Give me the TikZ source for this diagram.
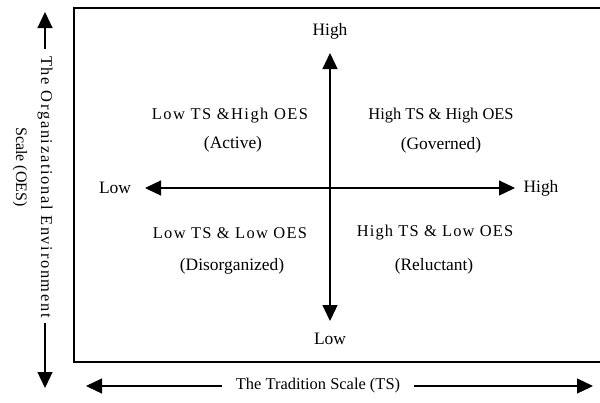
\documentclass[tikz,border=0pt]{standalone}
\usepackage{fontspec}
\setmainfont{Liberation Serif}
\usetikzlibrary{arrows.meta}
\begin{document}
\begin{tikzpicture}[x=1bp,y=-1bp,
  lbl/.style={font=\fontsize{16.5}{19}\selectfont, inner sep=0pt},
  big/.style={font=\fontsize{17.5}{20}\selectfont, inner sep=0pt},
  wide/.style={font=\fontsize{16.5}{19}\selectfont\addfontfeature{LetterSpace=#1}},
  axis/.style={line width=1.2bp, -{Triangle[length=16bp,width=15bp]}},
  frame/.style={line width=1.3bp}]
\useasboundingbox (0,0) rectangle (600,402);
% frame
\draw[frame] (600,8) -- (74,8) -- (74,362) -- (600,362);
% central axes
\node[big] (vhigh) at (330,31) {High};
\node[big] (vlow) at (330,339) {Low};
\node[big] (hlow) at (115,188) {Low};
\node[big] (hhigh) at (541,188) {High};
\coordinate (c) at (330,188);
\coordinate (ctop) at (330,53);
\coordinate (cbot) at (330,321);
\coordinate (cleft) at (145,188);
\coordinate (cright) at (515,188);
\draw[axis] (c) -- (ctop);
\draw[axis] (c) -- (cbot);
\draw[axis] (c) -- (cleft);
\draw[axis] (c) -- (cright);
% quadrants
\node[lbl, wide=9] (q1a) at (230,116) {Low TS \&High OES};
\node[big] (q1b) at (233,144) {(Active)};
\node[lbl] (q2a) at (441,116) {High TS \& High OES};
\node[big] (q2b) at (441,145) {(Governed)};
\node[lbl, wide=8] (q3a) at (230,233) {Low TS \& Low OES};
\node[big] (q3b) at (232,266) {(Disorganized)};
\node[lbl, wide=7] (q4a) at (435,233) {High TS \& Low OES};
\node[big] (q4b) at (434,266) {(Reluctant)};
% left scale
\node[lbl, rotate=-90, wide=10] (oes1) at (45,187) {The Organizational Environment};
\node[lbl, rotate=-90, font=\fontsize{16}{19}\selectfont] (oes2) at (20,167) {Scale (OES)};
\coordinate (oestop) at (45,12);
\coordinate (oestopl) at (45,49);
\coordinate (oesbot) at (45,388);
\coordinate (oesbotl) at (45,323);
\draw[axis] (oestopl) -- (oestop);
\draw[axis] (oesbotl) -- (oesbot);
% bottom scale
\node[lbl] (ts) at (318,386) {The Tradition Scale (TS)};
\coordinate (tsleft) at (86,386);
\coordinate (tslefte) at (222,386);
\coordinate (tsright) at (593,386);
\coordinate (tsrights) at (414,386);
\draw[axis] (tslefte) -- (tsleft);
\draw[axis] (tsrights) -- (tsright);
\end{tikzpicture}
\end{document}
